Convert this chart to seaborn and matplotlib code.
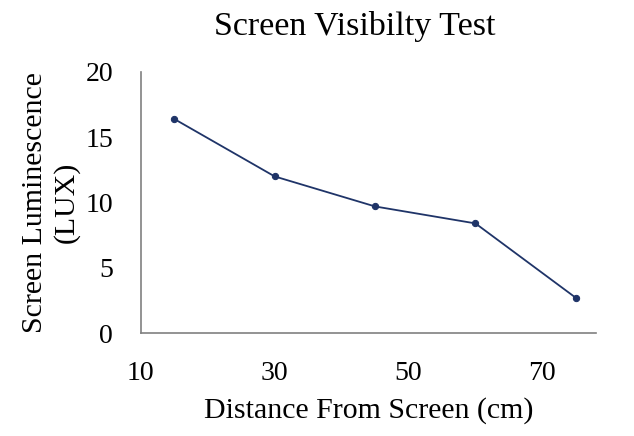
"""
Screen visibility test: luminescence vs distance from screen
"""

import matplotlib
matplotlib.use("Agg")
import matplotlib.pyplot as plt
import seaborn as sns
import pandas as pd

# Data
distance_cm = [15, 30, 45, 60, 75]
luminescence_lux = [16.4, 12.0, 9.7, 8.4, 2.7]
x_ticks = [10, 30, 50, 70]
y_ticks = [0, 5, 10, 15, 20]

df = pd.DataFrame({"distance": distance_cm, "lux": luminescence_lux})

sns.set_style("white")
plt.rcParams["font.family"] = ["Liberation Serif", "DejaVu Serif"]
plt.rcParams["text.color"] = "black"
plt.rcParams["axes.labelcolor"] = "black"
plt.rcParams["xtick.color"] = "black"
plt.rcParams["ytick.color"] = "black"

fig = plt.figure(figsize=(6.34, 4.36), dpi=100)
ax = fig.add_axes([0.222, 0.236, 0.718, 0.599])

line_color = "#1F3468"
sns.lineplot(data=df, x="distance", y="lux", ax=ax, color=line_color,
             linewidth=1.3, marker="o", markersize=4.5,
             markeredgecolor=line_color, markerfacecolor=line_color)

ax.set_xlim(10, 78)
ax.set_ylim(0, 20)
ax.set_xticks(x_ticks)
ax.set_yticks(y_ticks)
ax.tick_params(axis="x", length=0, labelsize=20, pad=20)
ax.tick_params(axis="y", length=0, labelsize=20, pad=20)

for side in ["top", "right"]:
    ax.spines[side].set_visible(False)
for side in ["left", "bottom"]:
    ax.spines[side].set_color("#808080")
    ax.spines[side].set_linewidth(1.2)

ax.set_xlabel("Distance From Screen (cm)", fontsize=21.5, labelpad=8)
ax.set_ylabel("Screen Luminescence\n(LUX)", fontsize=21.5, labelpad=4,
              linespacing=1.25)
fig.suptitle("Screen Visibilty Test", fontsize=24.5, x=0.56, y=0.975)

fig.savefig("out.png", dpi=100, facecolor="white")
